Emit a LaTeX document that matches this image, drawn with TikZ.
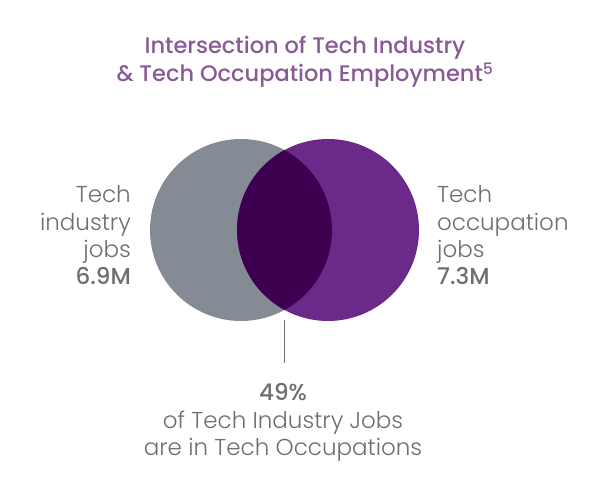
\documentclass[tikz,border=0pt]{standalone}
\usepackage{fontspec}
\setmainfont{Poppins}[UprightFont=* Light, BoldFont=* Medium]
\definecolor{cgray}{HTML}{858B94}
\definecolor{cpurp}{HTML}{6B2A8A}
\definecolor{cdark}{HTML}{3D0050}
\definecolor{ctext}{HTML}{6D6E71}
\definecolor{ctitle}{HTML}{8A5A96}
\begin{document}
\begin{tikzpicture}[x=1pt,y=1pt,
  circ/.style={circle,minimum size=182pt,inner sep=0pt,draw=none},
  side/.style={font=\fontsize{23}{27}\selectfont,text=ctext,inner sep=0pt},
  ttl/.style={font=\fontsize{22.5}{28}\selectfont\bfseries,text=ctitle,inner sep=0pt}]
\useasboundingbox (0,0) rectangle (594,500);
\node[circ,fill=cgray] (L) at (241,270) {};
\node[circ,fill=cpurp] (R) at (328,270) {};
\begin{scope}
  \clip (241,270) circle (91);
  \fill[cdark] (328,270) circle (91);
\end{scope}
\coordinate (top) at (284,180);
\coordinate (bot) at (284,137);
\draw[ctext,line width=0.6pt] (top) -- (bot);
\node[ttl,anchor=base] (t1) at (305,446) {Intersection of Tech Industry};
\node[ttl,anchor=base] (t2) at (305,418) {\& Tech Occupation Employment\textsuperscript{5}};
\node[side,anchor=base east] (l1) at (131,297) {Tech};
\node[side,anchor=base east] (l2) at (131,269) {industry};
\node[side,anchor=base east] (l3) at (131,242) {jobs};
\node[side,anchor=base east] (l4) at (131,215) {\bfseries 6.9M};
\node[side,anchor=base west] (r1) at (437,297) {Tech};
\node[side,anchor=base west] (r2) at (437,269) {occupation};
\node[side,anchor=base west] (r3) at (437,242) {jobs};
\node[side,anchor=base west] (r4) at (437,215) {\bfseries 7.3M};
\node[side,anchor=base] (b1) at (283,99) {\bfseries 49\%};
\node[side,anchor=base] (b2) at (283,71) {of Tech Industry Jobs};
\node[side,anchor=base] (b3) at (283,44) {are in Tech Occupations};
\end{tikzpicture}
\end{document}
